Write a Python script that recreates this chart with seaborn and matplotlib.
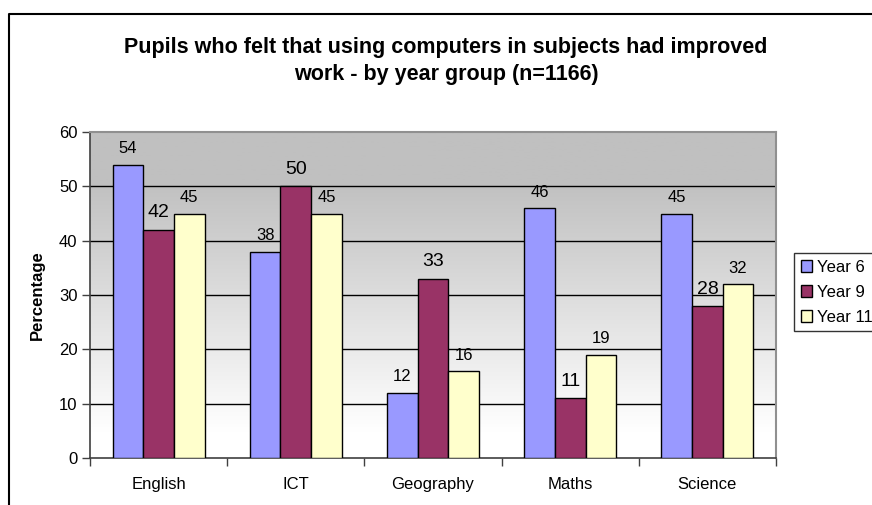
import numpy as np
import pandas as pd
import matplotlib
matplotlib.use("Agg")
import matplotlib.pyplot as plt
import seaborn as sns
from matplotlib.lines import Line2D
from matplotlib.colors import LinearSegmentedColormap

subjects = ["English", "ICT", "Geography", "Maths", "Science"]
year6 = [54, 38, 12, 46, 45]
year9 = [42, 50, 33, 11, 28]
year11 = [45, 45, 16, 19, 32]
series_names = ["Year 6", "Year 9", "Year 11"]
colors = ["#9999FF", "#993366", "#FFFFCC"]
yticks = [0, 10, 20, 30, 40, 50, 60]

df = pd.DataFrame({
    "Subject": subjects * 3,
    "Group": [series_names[0]] * 5 + [series_names[1]] * 5 + [series_names[2]] * 5,
    "Value": year6 + year9 + year11,
})

sns.set_theme(style="white")
plt.rcParams["font.family"] = ["Liberation Sans", "DejaVu Sans"]
plt.rcParams["text.color"] = "black"
plt.rcParams["axes.labelcolor"] = "black"
plt.rcParams["xtick.color"] = "black"
plt.rcParams["ytick.color"] = "black"

fig = plt.figure(figsize=(8.72, 5.05), dpi=100)
ax = fig.add_axes([90 / 872, 1 - 458 / 505, (776 - 90) / 872, (458 - 132) / 505])

# gradient background
grad = np.linspace(0, 1, 256).reshape(-1, 1)
cmap = LinearSegmentedColormap.from_list("g", [(0, "#FFFFFF"), (0.08, "#FFFFFF"), (0.85, "#C0C0C0"), (1, "#C0C0C0")])
ax.imshow(grad, extent=(-0.5, 4.5, 0, 60), origin="lower", aspect="auto", cmap=cmap, zorder=0)

sns.barplot(data=df, x="Subject", y="Value", hue="Group", palette=colors, saturation=1,
            width=0.67, gap=0, edgecolor="black", linewidth=1, ax=ax, zorder=3, legend=True)

for i, cont in enumerate(ax.containers):
    fs = 14 if i == 1 else 12
    ax.bar_label(cont, labels=[str(int(v)) for v in cont.datavalues], padding=6,
                 fontsize=fs, color="black", zorder=5)

ax.set_xlim(-0.5, 4.5)
ax.set_ylim(0, 60)
ax.set_yticks(yticks)
ax.set_yticklabels([str(t) for t in yticks], fontsize=12)
ax.set_xticks(range(len(subjects)))
ax.set_xticklabels(subjects, fontsize=12)
ax.set_xticks(np.arange(-0.5, 5, 1), minor=True)
ax.tick_params(axis="x", which="major", length=0, pad=14, labelcolor="black")
ax.tick_params(axis="x", which="minor", length=6, width=1, color="#404040", direction="out", bottom=True)
ax.tick_params(axis="y", length=6, width=1, color="#404040", direction="out", left=True, pad=3,
               labelcolor="black")
for t in yticks[1:-1]:
    ax.axhline(t, color="black", linewidth=1, zorder=1)
ax.set_xlabel("")
ax.set_ylabel("Percentage", fontsize=12, fontweight="bold", labelpad=10, color="black")
ax.grid(False)
for s in ["top", "right"]:
    ax.spines[s].set_color("#909090")
    ax.spines[s].set_linewidth(1.5)
for s in ["left", "bottom"]:
    ax.spines[s].set_color("#404040")
    ax.spines[s].set_linewidth(1.2)

handles, labels = ax.get_legend_handles_labels()
leg = ax.legend(handles, labels, loc="upper left", bbox_to_anchor=(794 / 872, 1 - 253 / 505),
                bbox_transform=fig.transFigure, frameon=True, fancybox=False, edgecolor="black",
                fontsize=12, handlelength=0.7, handleheight=0.7, handletextpad=0.3,
                labelspacing=0.6, borderpad=0.4, borderaxespad=0)
leg.get_frame().set_linewidth(1)
for t in leg.get_texts():
    t.set_color("black")

fig.text(446 / 872, 1 - 61 / 505,
         "Pupils who felt that using computers in subjects had improved\nwork - by year group (n=1166)",
         ha="center", va="center", fontsize=15.5, fontweight="bold", linespacing=1.35, color="black")

fig.add_artist(Line2D([9 / 872, 9 / 872, 1], [0, 1 - 14 / 505, 1 - 14 / 505],
                      transform=fig.transFigure, color="black", linewidth=1.5))

fig.savefig("out.png", dpi=100)
